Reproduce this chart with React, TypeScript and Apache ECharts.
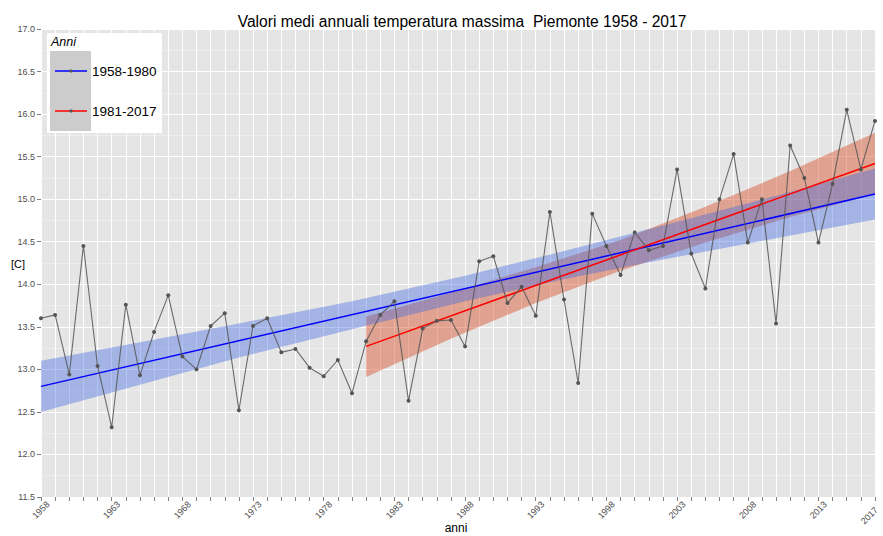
import React, { useEffect, useRef } from "react";
import * as echarts from "echarts";

const years = [
  1958, 1959, 1960, 1961, 1962, 1963, 1964, 1965, 1966, 1967,
  1968, 1969, 1970, 1971, 1972, 1973, 1974, 1975, 1976, 1977,
  1978, 1979, 1980, 1981, 1982, 1983, 1984, 1985, 1986, 1987,
  1988, 1989, 1990, 1991, 1992, 1993, 1994, 1995, 1996, 1997,
  1998, 1999, 2000, 2001, 2002, 2003, 2004, 2005, 2006, 2007,
  2008, 2009, 2010, 2011, 2012, 2013, 2014, 2015, 2016, 2017,
];
const tmax = [
  13.60, 13.64, 12.94, 14.45, 13.04, 12.32, 13.76, 12.93, 13.44, 13.87,
  13.15, 13.00, 13.51, 13.66, 12.52, 13.51, 13.60, 13.20, 13.24, 13.02,
  12.92, 13.11, 12.72, 13.33, 13.64, 13.80, 12.63, 13.48, 13.57, 13.58,
  13.27, 14.27, 14.33, 13.78, 13.97, 13.63, 14.85, 13.82, 12.84, 14.83,
  14.45, 14.11, 14.61, 14.40, 14.45, 15.35, 14.36, 13.95, 15.00, 15.53,
  14.49, 15.00, 13.54, 15.63, 15.25, 14.49, 15.18, 16.05, 15.35, 15.92,
];

// trend 1958-1980 series (blue) and its band
const blueYears = [1958, 1965, 1972, 1980, 1988, 1995, 2002, 2010, 2017];
const blueLower = [12.50, 12.82, 13.14, 13.47, 13.80, 14.06, 14.29, 14.54, 14.76];
const blueUpper = [13.10, 13.32, 13.54, 13.80, 14.10, 14.39, 14.69, 15.04, 15.36];
const blueLineYears = [1958, 2017];
const blueLineVals = [12.80, 15.06];

// trend 1981-2017 series (red) and its band
const redYears = [1981, 1987, 1993, 1999, 2005, 2011, 2017];
const redLower = [12.91, 13.36, 13.78, 14.16, 14.49, 14.79, 15.06];
const redUpper = [13.62, 13.90, 14.20, 14.52, 14.91, 15.33, 15.78];
const redLineYears = [1981, 2017];
const redLineVals = [13.27, 15.42];

const labelYears = [1958, 1963, 1968, 1973, 1978, 1983, 1988, 1993, 1998, 2003, 2008, 2013, 2017];
const lastYear = 2017;

const FONT = "'Liberation Sans', Arial, sans-serif";

function bandSeries(xs: number[], lo: number[], hi: number[], fill: string) {
  return {
    type: "custom",
    silent: true,
    data: [[xs[0], lo[0]]],
    renderItem: (params: any, api: any) => {
      const pts: number[][] = [];
      for (let i = 0; i < xs.length; i++) pts.push(api.coord([xs[i], hi[i]]));
      for (let i = xs.length - 1; i >= 0; i--) pts.push(api.coord([xs[i], lo[i]]));
      return { type: "polygon", shape: { points: pts }, style: { fill } };
    },
  };
}

export default function App() {
  const ref = useRef<HTMLDivElement>(null);
  useEffect(() => {
    if (!ref.current) return;
    const chart = echarts.init(ref.current, null, { renderer: "svg" });
    const option: any = {
      animation: false,
      backgroundColor: "#ffffff",
      textStyle: { fontFamily: FONT },
      title: {
        text: "Valori medi annuali temperatura massima  Piemonte 1958 - 2017",
        left: 457,
        top: 8,
        textAlign: "center",
        textStyle: { fontFamily: FONT, fontSize: 15.6, fontWeight: "normal", color: "#000" },
      },
      grid: {
        left: 41,
        right: 8,
        top: 29,
        bottom: 39,
        show: true,
        backgroundColor: "#e5e5e5",
        borderWidth: 0,
        containLabel: false,
        outerBoundsMode: "none",
      },
      xAxis: {
        type: "value",
        min: 1958,
        max: 2017,
        interval: 1,
        axisLine: { show: false },
        axisTick: { show: true, length: 4, lineStyle: { color: "#7f7f7f" } },
        axisLabel: {
          rotate: 45,
          align: "center",
          verticalAlign: "middle",
          fontSize: 9,
          color: "#4d4d4d",
          margin: 13,
          fontFamily: FONT,
          hideOverlap: false,
          formatter: (v: number) =>
            v === lastYear ? "{e|" + v + "}" : labelYears.indexOf(v) >= 0 ? String(v) : "",
          rich: {
            e: { fontSize: 9, color: "#4d4d4d", fontFamily: FONT, padding: [0, 16, 0, 0] },
          },
        },
        splitLine: { show: true, lineStyle: { color: "#ffffff", width: 1 } },
      },
      yAxis: {
        type: "value",
        min: 11.5,
        max: 17,
        interval: 0.5,
        axisLine: { show: false },
        axisTick: { show: true, length: 4, lineStyle: { color: "#7f7f7f" } },
        axisLabel: {
          fontSize: 9,
          color: "#4d4d4d",
          margin: 6,
          fontFamily: FONT,
          formatter: (v: number) => v.toFixed(1),
        },
        splitLine: { show: true, lineStyle: { color: "#ffffff", width: 1.2 } },
        minorTick: { show: false, splitNumber: 2 },
        minorSplitLine: { show: true, lineStyle: { color: "#f2f2f2", width: 0.6 } },
      },
      series: [
        bandSeries(redYears, redLower, redUpper, "rgba(215,80,40,0.45)"),
        bandSeries(blueYears, blueLower, blueUpper, "rgba(65,105,225,0.4)"),
        {
          type: "line",
          name: "1958-1980",
          data: blueLineYears.map((y, i) => [y, blueLineVals[i]]),
          showSymbol: false,
          lineStyle: { color: "#0000ff", width: 1.5 },
        },
        {
          type: "line",
          name: "1981-2017",
          data: redLineYears.map((y, i) => [y, redLineVals[i]]),
          showSymbol: false,
          lineStyle: { color: "#ff0000", width: 1.5 },
        },
        {
          type: "line",
          name: "Tmax",
          data: years.map((y, i) => [y, tmax[i]]),
          symbol: "circle",
          symbolSize: 4,
          itemStyle: { color: "#555555" },
          lineStyle: { color: "#555555", width: 1.1, opacity: 0.85 },
        },
      ],
      graphic: [
        {
          type: "group",
          z: 100,
          children: [
            { type: "rect", z: 100, shape: { x: 47, y: 33, width: 115, height: 100 }, style: { fill: "#ffffff" } },
            {
              type: "text",
              z: 101,
              x: 51,
              y: 42,
              style: { text: "Anni", fontSize: 12.5, fontStyle: "italic", fontFamily: FONT, fill: "#000", verticalAlign: "middle" },
            },
            { type: "rect", z: 101, shape: { x: 50, y: 51, width: 41, height: 80 }, style: { fill: "#cccccc" } },
            { type: "line", z: 102, shape: { x1: 55, y1: 71, x2: 87, y2: 71 }, style: { stroke: "#0000ff", lineWidth: 1.5 } },
            { type: "circle", z: 103, shape: { cx: 71, cy: 71, r: 1.6 }, style: { fill: "#555555" } },
            {
              type: "text",
              z: 101,
              x: 92,
              y: 71,
              style: { text: "1958-1980", fontSize: 13.5, fontFamily: FONT, fill: "#000", verticalAlign: "middle" },
            },
            { type: "line", z: 102, shape: { x1: 55, y1: 111, x2: 87, y2: 111 }, style: { stroke: "#ff0000", lineWidth: 1.5 } },
            { type: "circle", z: 103, shape: { cx: 71, cy: 111, r: 1.6 }, style: { fill: "#555555" } },
            {
              type: "text",
              z: 101,
              x: 92,
              y: 111,
              style: { text: "1981-2017", fontSize: 13.5, fontFamily: FONT, fill: "#000", verticalAlign: "middle" },
            },
          ],
        },
        {
          type: "text",
          x: 18,
          y: 264,
          style: { text: "[C]", fontSize: 11, fontFamily: FONT, fill: "#000", align: "center", verticalAlign: "middle" },
        },
        {
          type: "text",
          x: 456,
          y: 522,
          style: { text: "anni", fontSize: 12, fontFamily: FONT, fill: "#000", align: "center", verticalAlign: "top" },
        },
      ],
    };
    chart.setOption(option);
    return () => chart.dispose();
  }, []);
  return (
    <div
      ref={ref}
      style={{ position: "absolute", left: 0, top: 0, width: 883, height: 536 }}
    />
  );
}
